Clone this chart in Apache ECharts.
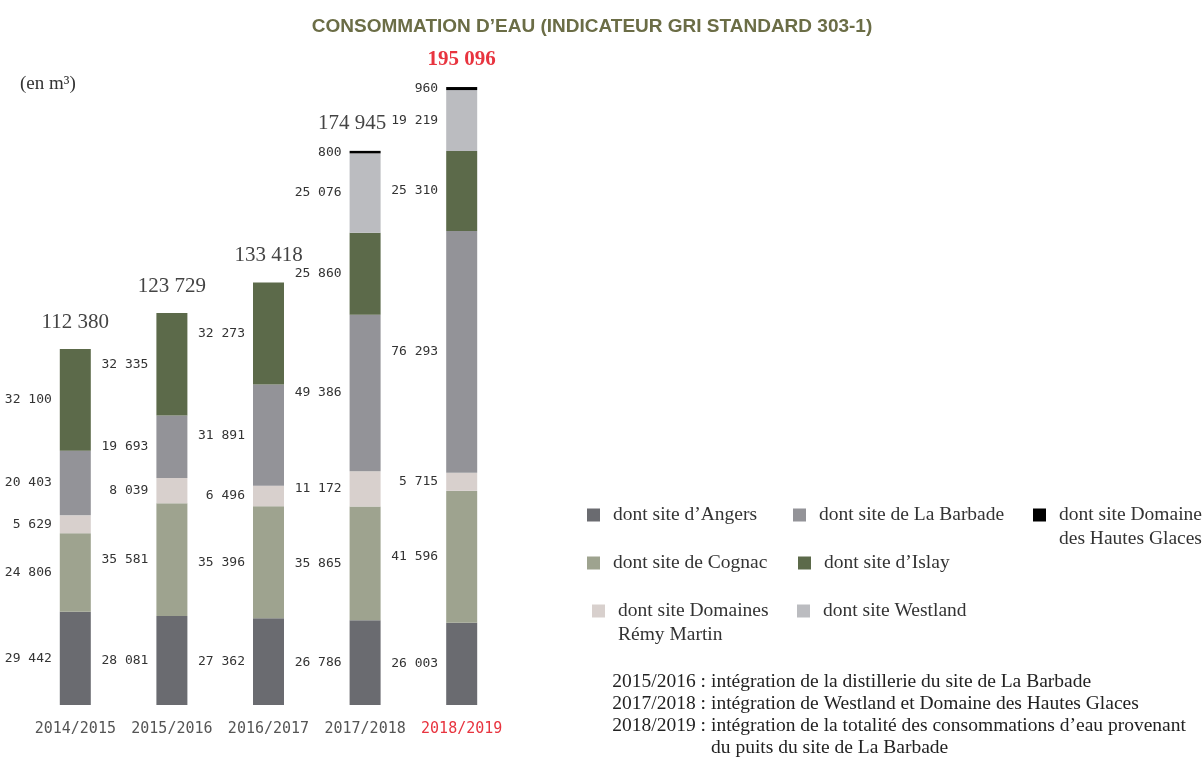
<!DOCTYPE html>
<html>
<head>
<meta charset="utf-8">
<script src="https://cdn.jsdelivr.net/npm/echarts@6/dist/echarts.min.js"></script>
<style>
  html, body { margin: 0; padding: 0; background: #fff; }
  #chart { width: 1202px; height: 758px; }
</style>
</head>
<body>
<div id="chart"></div>
<script>
// Water consumption per site, m³
const years = ['2014/2015', '2015/2016', '2016/2017', '2017/2018', '2018/2019'];
const angers = [29442, 28081, 27362, 26786, 26003];
const cognac = [24806, 35581, 35396, 35865, 41596];
const remyMartin = [5629, 8039, 6496, 11172, 5715];
const barbade = [20403, 19693, 31891, 49386, 76293];
const islay = [32100, 32335, 32273, 25860, 25310];
const westland = [null, null, null, 25076, 19219];
const hautesGlaces = [null, null, null, 800, 960];
const totals = [112380, 123729, 133418, 174945, 195096];

const siteNames = {
  angers: "dont site d\u2019Angers",
  barbade: 'dont site de La Barbade',
  hautesGlaces: 'dont site Domaine\ndes Hautes Glaces',
  cognac: 'dont site de Cognac',
  islay: "dont site d\u2019Islay",
  remyMartin: 'dont site Domaines\nR\u00e9my Martin',
  westland: 'dont site Westland'
};

const notes = [
  ['2015/2016 :', 'int\u00e9gration de la distillerie du site de La Barbade'],
  ['2017/2018 :', 'int\u00e9gration de Westland et Domaine des Hautes Glaces'],
  ['2018/2019 :', 'int\u00e9gration de la totalit\u00e9 des consommations d\u2019eau provenant'],
  ['', 'du puits du site de La Barbade']
];

const SERIF = '"Liberation Serif", "DejaVu Serif", serif';
const MONO = '"DejaVu Sans Mono", monospace';
const TEXT_SIZE = 19.5;

const fmt = v => String(v).replace(/\B(?=(\d{3})+(?!\d))/g, ' ');

function barSeries(key, data, color) {
  return {
    name: siteNames[key],
    type: 'bar',
    stack: 'sites',
    barWidth: 31,
    data: data,
    itemStyle: { color: color },
    label: {
      show: true,
      position: 'left',
      distance: 8,
      fontFamily: MONO,
      fontSize: 13,
      color: '#333',
      formatter: p => (p.value == null ? '' : fmt(p.value))
    },
    emphasis: { disabled: true }
  };
}

// one legend block per site, laid out as three columns;
// two-line names get an empty leading line so the swatch sits on the first line
function legendAt(key, left, centerY) {
  const lh = 24;
  const twoLines = siteNames[key].indexOf('\n') >= 0;
  return {
    data: [siteNames[key]],
    left: left,
    top: twoLines ? centerY - lh * 1.5 : centerY - lh / 2,
    padding: 0,
    itemWidth: 13,
    itemHeight: 13,
    icon: 'rect',
    selectedMode: false,
    formatter: name => (twoLines ? '\n' + name : name),
    textStyle: {
      fontFamily: SERIF,
      fontSize: TEXT_SIZE,
      color: '#333',
      lineHeight: lh,
      padding: [0, 0, 0, 8]
    }
  };
}

const noteGraphics = [];
notes.forEach((n, i) => {
  const y = 683 + i * 22;
  if (n[0]) {
    noteGraphics.push({
      type: 'text', right: 1202 - 706, top: y - 11,
      style: { text: n[0], font: TEXT_SIZE + 'px ' + SERIF, fill: '#222', textAlign: 'right' }
    });
  }
  noteGraphics.push({
    type: 'text', left: 711, top: y - 11,
    style: { text: n[1], font: TEXT_SIZE + 'px ' + SERIF, fill: '#222' }
  });
});

const chart = echarts.init(document.getElementById('chart'), null, { renderer: 'canvas' });

chart.setOption({
  animation: false,
  backgroundColor: '#fff',
  title: {
    text: 'CONSOMMATION D\u2019EAU (INDICATEUR GRI STANDARD 303-1)',
    left: 587,
    textAlign: 'center',
    top: 12,
    textStyle: {
      fontFamily: '"Liberation Sans", Arial, sans-serif',
      fontWeight: 'bold',
      fontSize: 19,
      color: '#6b6d46'
    }
  },
  grid: { left: 27, right: 692, top: 71.5, bottom: 53, containLabel: false },
  xAxis: {
    type: 'category',
    data: years,
    axisLine: { show: false },
    axisTick: { show: false },
    axisLabel: {
      interval: 0,
      margin: 17,
      formatter: (v, i) => (i === years.length - 1 ? '{r|' + v + '}' : '{n|' + v + '}'),
      rich: {
        n: { fontFamily: MONO, fontSize: 15, color: '#555' },
        r: { fontFamily: MONO, fontSize: 15, color: '#e8343f' }
      }
    }
  },
  yAxis: { type: 'value', min: 0, max: 200000, show: false },
  legend: [
    legendAt('angers', 587, 515),
    legendAt('barbade', 793, 515),
    legendAt('hautesGlaces', 1033, 515),
    legendAt('cognac', 587, 563),
    legendAt('islay', 798, 563),
    legendAt('remyMartin', 592, 611),
    legendAt('westland', 797, 611)
  ],
  series: [
    barSeries('angers', angers, '#6a6b70'),
    barSeries('cognac', cognac, '#9ea38f'),
    barSeries('remyMartin', remyMartin, '#d8d0cd'),
    barSeries('barbade', barbade, '#939398'),
    barSeries('islay', islay, '#5c6a4a'),
    barSeries('westland', westland, '#bbbcc0'),
    barSeries('hautesGlaces', hautesGlaces, '#000000'),
    {
      // invisible points at each bar's total, carrying the total labels
      name: 'total',
      type: 'scatter',
      symbolSize: 1,
      itemStyle: { color: 'rgba(0,0,0,0)', opacity: 1 },
      data: totals.map((v, i) => ({
        value: [years[i], v],
        label: i === 3 ? { offset: [-13, 0] } : undefined
      })),
      label: {
        show: true,
        position: 'top',
        distance: 16,
        formatter: p => {
          const t = fmt(p.value[1]);
          return p.dataIndex === totals.length - 1 ? '{r|' + t + '}' : '{n|' + t + '}';
        },
        rich: {
          n: { fontFamily: SERIF, fontSize: 21, color: '#444' },
          r: { fontFamily: SERIF, fontSize: 21, color: '#e8343f', fontWeight: 'bold' }
        }
      },
      emphasis: { disabled: true },
      silent: true
    }
  ],
  graphic: [
    {
      type: 'text', left: 20, top: 75,
      style: { text: '(en m\u00b3)', font: '19px ' + SERIF, fill: '#333' }
    }
  ].concat(noteGraphics)
});
</script>
</body>
</html>
